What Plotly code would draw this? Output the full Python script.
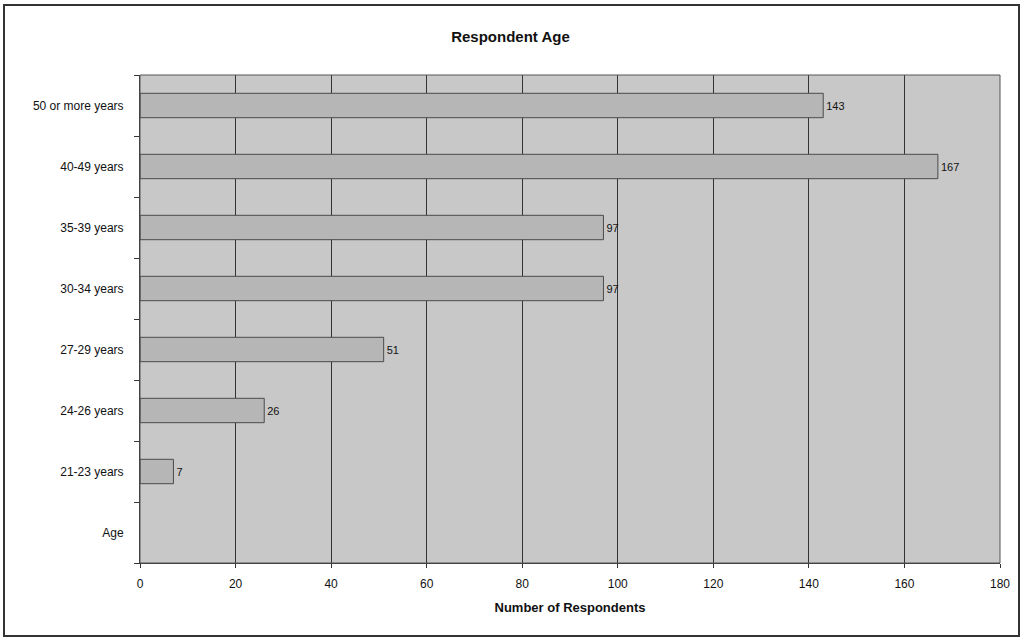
import plotly.graph_objects as go

# Age groups, listed bottom to top as they appear on the axis
age_groups = ["Age", "21-23 years", "24-26 years", "27-29 years",
              "30-34 years", "35-39 years", "40-49 years", "50 or more years"]
respondents = [None, 7, 26, 51, 97, 97, 167, 143]
x_ticks = [0, 20, 40, 60, 80, 100, 120, 140, 160, 180]

labels = ["" if v is None else str(v) for v in respondents]

font_family = "Liberation Sans, Arial, sans-serif"

fig = go.Figure(go.Bar(
    y=age_groups,
    x=respondents,
    orientation="h",
    marker=dict(color="#b6b6b6", line=dict(color="#4a4a4a", width=1)),
    text=labels,
    textposition="outside",
    textfont=dict(family=font_family, size=11, color="#111"),
    cliponaxis=False,
    hoverinfo="x+y",
))

fig.update_layout(
    width=1021, height=640,
    margin=dict(l=140, r=21, t=75, b=77),
    paper_bgcolor="white",
    plot_bgcolor="#c8c8c8",
    bargap=0.6,
    showlegend=False,
    font=dict(family=font_family, size=12, color="#111"),
    title=dict(text="<b>Respondent Age</b>", x=0.5, xanchor="center",
               y=1 - 37 / 640, yanchor="middle",
               font=dict(family=font_family, size=15, color="#111")),
    xaxis=dict(
        range=[0, 180], tickvals=x_ticks, ticktext=[str(t) for t in x_ticks],
        showgrid=True, gridcolor="#333", gridwidth=1,
        zeroline=False, showline=True, linecolor="#333", linewidth=1,
        ticks="outside", ticklen=4, tickcolor="#333",
        tickfont=dict(size=12), ticklabelstandoff=6,
        title=dict(text="<b>Number of Respondents</b>", standoff=12,
                   font=dict(size=13)),
    ),
    yaxis=dict(
        categoryorder="array", categoryarray=age_groups,
        showgrid=False, showline=True, linecolor="#333", linewidth=1,
        ticks="outside", tickson="boundaries", ticklen=5, tickcolor="#333",
        tickfont=dict(size=12), ticklabelstandoff=13,
    ),
    shapes=[
        # frame around the whole chart
        dict(type="rect", xref="paper", yref="paper",
             x0=-136 / 860, x1=879 / 860, y0=-73 / 488, y1=558 / 488,
             line=dict(color="#333", width=2), fillcolor="rgba(0,0,0,0)",
             layer="below"),
        # right and top edges of the plot area
        dict(type="rect", xref="paper", yref="paper", x0=0, x1=1, y0=0, y1=1,
             line=dict(color="#555", width=1), fillcolor="rgba(0,0,0,0)"),
    ],
)

fig.write_html("out.html")
